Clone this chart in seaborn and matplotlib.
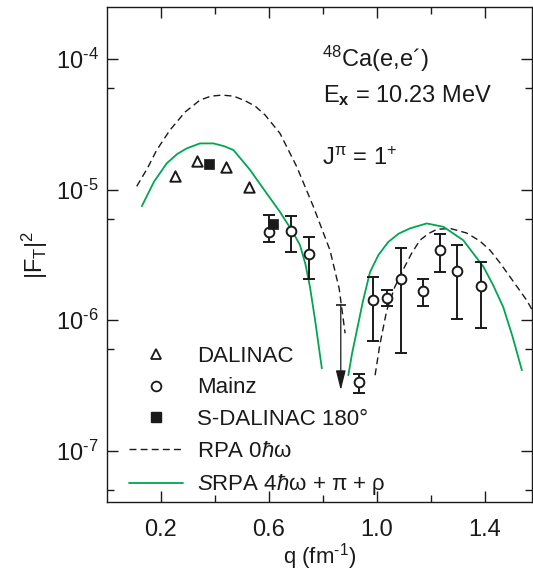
import numpy as np
import pandas as pd
import matplotlib
matplotlib.use('Agg')
import matplotlib.pyplot as plt
from matplotlib.lines import Line2D
from matplotlib.ticker import FixedLocator, NullFormatter, FixedFormatter
import seaborn as sns

# ---------------- data ----------------
dal_q = [0.253, 0.333, 0.442, 0.528]
dal_f = [1.28e-5, 1.66e-5, 1.48e-5, 1.05e-5]

sdal_q = [0.377, 0.617]
sdal_f = [1.56e-5, 5.5e-6]

mainz_q = [0.602, 0.682, 0.749, 0.935, 0.987, 1.038, 1.089, 1.172, 1.233, 1.295, 1.384]
mainz_f = [4.75e-6, 4.81e-6, 3.24e-6, 3.37e-7, 1.42e-6, 1.49e-6, 2.06e-6, 1.68e-6, 3.44e-6, 2.39e-6, 1.83e-6]
mainz_hi = [6.38e-6, 6.32e-6, 4.35e-6, 3.86e-7, 2.15e-6, 1.70e-6, 3.58e-6, 2.05e-6, 4.54e-6, 3.80e-6, 2.80e-6]
mainz_lo = [3.94e-6, 3.34e-6, 2.06e-6, 2.77e-7, 6.93e-7, 1.28e-6, 5.56e-7, 1.28e-6, 2.34e-6, 1.02e-6, 8.79e-7]

lim_q = [0.866]
lim_top = [1.30e-6]
lim_tip = [2.91e-7]

rpa_q1 = [0.111, 0.150, 0.185, 0.234, 0.290, 0.345, 0.385, 0.427, 0.470, 0.512, 0.550,
          0.586, 0.641, 0.703, 0.765, 0.826, 0.860, 0.882]
rpa_f1 = [1.06e-5, 1.45e-5, 2.01e-5, 2.86e-5, 3.93e-5, 4.85e-5, 5.2e-5, 5.3e-5, 5.2e-5,
          4.8e-5, 4.35e-5, 3.73e-5, 2.70e-5, 1.50e-5, 7.38e-6, 3.44e-6, 1.75e-6, 7.94e-7]
rpa_q2 = [0.993, 1.010, 1.036, 1.066, 1.096, 1.128, 1.159, 1.190, 1.221, 1.270, 1.332,
          1.380, 1.418, 1.455, 1.492, 1.554, 1.575]
rpa_f2 = [3.79e-7, 6.4e-7, 1.19e-6, 1.8e-6, 2.42e-6, 3.25e-6, 4.10e-6, 4.6e-6, 4.96e-6,
          5.05e-6, 4.65e-6, 4.05e-6, 3.44e-6, 2.75e-6, 2.15e-6, 1.42e-6, 1.19e-6]

srpa_q1 = [0.130, 0.175, 0.222, 0.260, 0.296, 0.345, 0.395, 0.435, 0.469, 0.530, 0.592,
           0.640, 0.689, 0.715, 0.735, 0.752, 0.771, 0.796]
srpa_f1 = [7.48e-6, 1.15e-5, 1.59e-5, 1.87e-5, 2.07e-5, 2.26e-5, 2.26e-5, 2.15e-5, 2.01e-5,
           1.42e-5, 9.35e-6, 6.8e-6, 4.72e-6, 3.76e-6, 2.7e-6, 1.80e-6, 1.0e-6, 4.27e-7]
srpa_q2 = [0.894, 0.908, 0.925, 0.948, 0.974, 1.005, 1.041, 1.080, 1.122, 1.184, 1.246,
           1.319, 1.394, 1.430, 1.467, 1.500, 1.536]
srpa_f2 = [3.79e-7, 5.6e-7, 8.24e-7, 1.4e-6, 2.33e-6, 3.15e-6, 3.96e-6, 4.6e-6, 5.05e-6,
           5.51e-6, 5.19e-6, 4.10e-6, 2.56e-6, 1.85e-6, 1.26e-6, 7.67e-7, 4.14e-7]

x_major = [0.2, 0.6, 1.0, 1.4]
x_major_labels = ['0.2', '0.6', '1.0', '1.4']
x_minor = [0.4, 0.8, 1.2]
y_major = [1e-7, 1e-6, 1e-5, 1e-4]
y_major_labels = [r'$\mathdefault{10^{\text{-}7}}$', r'$\mathdefault{10^{\text{-}6}}$',
                  r'$\mathdefault{10^{\text{-}5}}$', r'$\mathdefault{10^{\text{-}4}}$']
y_minor = [6e-5, 6e-6, 6e-7, 5e-8]

legend_labels = ['DALINAC', 'Mainz', 'S-DALINAC 180°',
                 r'RPA 0$\hbar\mathrm{\omega}$',
                 r'$\mathit{S}$RPA 4$\hbar\mathrm{\omega}$ + $\mathrm{\pi}$ + $\mathrm{\rho}$']

# ---------------- style ----------------
sns.set_theme(style='ticks')
plt.rcParams['font.family'] = ['Liberation Sans', 'DejaVu Sans']
plt.rcParams['mathtext.fontset'] = 'custom'
plt.rcParams['mathtext.rm'] = 'Liberation Sans'
plt.rcParams['mathtext.it'] = 'Liberation Sans:italic'
plt.rcParams['mathtext.bf'] = 'Liberation Sans:bold'
plt.rcParams['mathtext.sf'] = 'Liberation Sans'

GREEN = '#00a651'
DARK = '#1a1a1a'

fig = plt.figure(figsize=(5.33, 5.72), dpi=100)
ax = fig.add_axes([0.2002, 0.1219, 0.7987, 0.8664])

rpa = pd.DataFrame({'q': rpa_q1 + rpa_q2, 'F': rpa_f1 + rpa_f2,
                    'branch': [0] * len(rpa_q1) + [1] * len(rpa_q2)})
srpa = pd.DataFrame({'q': srpa_q1 + srpa_q2, 'F': srpa_f1 + srpa_f2,
                     'branch': [0] * len(srpa_q1) + [1] * len(srpa_q2)})

sns.lineplot(data=rpa, x='q', y='F', units='branch', estimator=None, sort=False,
             color=DARK, lw=1.0, linestyle=(0, (5, 3)), ax=ax, legend=False)
sns.lineplot(data=srpa, x='q', y='F', units='branch', estimator=None, sort=False,
             color=GREEN, lw=1.3, ax=ax, legend=False)

# Mainz error bars
err_lo = np.array(mainz_f) - np.array(mainz_lo)
err_hi = np.array(mainz_hi) - np.array(mainz_f)
ax.errorbar(mainz_q, mainz_f, yerr=[err_lo, err_hi], fmt='none', ecolor=DARK,
            elinewidth=1.4, capsize=4, capthick=1.4, zorder=3)
sns.scatterplot(x=mainz_q, y=mainz_f, marker='o', s=49, facecolor='white',
                edgecolor=DARK, linewidth=1.4, ax=ax, zorder=4)
sns.scatterplot(x=dal_q, y=dal_f, marker='^', s=56, facecolor='white',
                edgecolor=DARK, linewidth=1.4, ax=ax, zorder=4)
sns.scatterplot(x=sdal_q, y=sdal_f, marker='s', s=56, color=DARK,
                edgecolor=DARK, linewidth=0.5, ax=ax, zorder=5)

# upper limit arrow
for q, top, tip in zip(lim_q, lim_top, lim_tip):
    ax.annotate('', xy=(q, tip), xytext=(q, top),
                arrowprops=dict(arrowstyle='-|>,head_length=1.2,head_width=0.3',
                                color=DARK, lw=0.9, shrinkA=0, shrinkB=0,
                                mutation_scale=10), zorder=3)
    ax.plot([q], [top], marker='_', ms=7, mew=1.2, color=DARK, zorder=3)

# axes
ax.set_yscale('log')
ax.set_xlim(0.0, 1.575)
ax.set_ylim(4.03e-8, 2.52e-4)
ax.xaxis.set_major_locator(FixedLocator(x_major))
ax.xaxis.set_major_formatter(FixedFormatter(x_major_labels))
ax.xaxis.set_minor_locator(FixedLocator(x_minor))
ax.yaxis.set_major_locator(FixedLocator(y_major))
ax.yaxis.set_major_formatter(FixedFormatter(y_major_labels))
ax.yaxis.set_minor_locator(FixedLocator(y_minor))
ax.yaxis.set_minor_formatter(NullFormatter())

for s in ax.spines.values():
    s.set_linewidth(1.0)
    s.set_color(DARK)
ax.tick_params(which='both', direction='in', top=True, right=True, color=DARK, width=1.0)
ax.tick_params(which='major', length=8)
ax.tick_params(which='minor', length=5)
ax.tick_params(axis='x', which='major', labelsize=17, pad=12, labelcolor=DARK)
ax.tick_params(axis='y', which='major', labelsize=17, pad=6, labelcolor=DARK)

ax.set_xlabel(r'q (fm$^{\text{-}1}$)', fontsize=16, labelpad=0, color=DARK)
ax.set_ylabel(r'$|\mathrm{F}_\mathrm{T}|^2$', fontsize=17, labelpad=4, color=DARK)

# annotations
ax.text(0.506, 0.879, r'$^{48}$Ca(e,e´)', transform=ax.transAxes, fontsize=17,
        ha='left', va='baseline', color=DARK)
ax.text(0.508, 0.808, r'E$_{\mathbf{x}}$ = 10.23 MeV', transform=ax.transAxes,
        fontsize=17, ha='left', va='baseline', color=DARK)
ax.text(0.506, 0.680, r'J$^{\mathrm{\pi}}$ = 1$^{+}$', transform=ax.transAxes,
        fontsize=17, ha='left', va='baseline', color=DARK)

# legend
handles = [
    Line2D([], [], ls='none', marker='^', ms=7.5, mfc='white', mec=DARK, mew=1.3),
    Line2D([], [], ls='none', marker='o', ms=7, mfc='white', mec=DARK, mew=1.3),
    Line2D([], [], ls='none', marker='s', ms=7.5, mfc=DARK, mec=DARK),
    Line2D([], [], color=DARK, lw=1.0, ls=(0, (5, 3))),
    Line2D([], [], color=GREEN, lw=1.3),
]
ax.legend(handles, legend_labels, loc='upper left', bbox_to_anchor=(0.0524, 0.316),
          frameon=False, handlelength=2.43, handletextpad=0.62, labelspacing=0.48,
          borderpad=0, borderaxespad=0, fontsize=16, labelcolor=DARK)

fig.savefig('out.png', dpi=100)
